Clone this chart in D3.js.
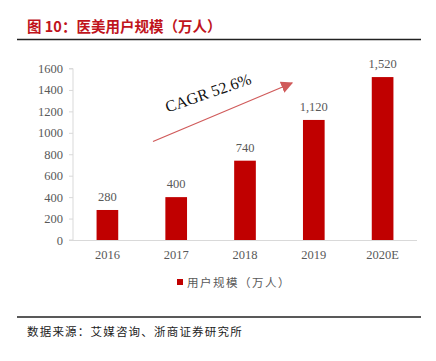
<!DOCTYPE html>
<html><head><meta charset="utf-8">
<script src="https://cdn.jsdelivr.net/npm/d3@7/dist/d3.min.js"></script>
<style>body{margin:0;background:#fff}svg{display:block}</style>
</head><body>
<svg id="c" width="436" height="361"></svg>
<script>
const categories = ["2016","2017","2018","2019","2020E"];
const values = [280, 400, 740, 1120, 1520];
const valueLabels = ["280","400","740","1,120","1,520"];
const yTicks = [0,200,400,600,800,1000,1200,1400,1600];
const title = "图 10：医美用户规模（万人）";
const seriesName = "用户规模（万人）";
const cagrText = "CAGR 52.6%";
const sourceText = "数据来源：艾媒咨询、浙商证券研究所";

const svg = d3.select("#c");
const red = "#c00000";
const serif = "'Liberation Serif','Times New Roman',serif";
const cjk = "'Noto Sans CJK SC',sans-serif";

// title
svg.append("text").attr("x",27).attr("y",32).attr("fill","#c0141c")
  .attr("font-family",cjk).attr("font-weight","bold").attr("font-size",14.5).text(title);
svg.append("line").attr("x1",17).attr("x2",421).attr("y1",39.5).attr("y2",39.5)
  .attr("stroke","#222").attr("stroke-width",1.6);
svg.append("line").attr("x1",17).attr("x2",421).attr("y1",317).attr("y2",317)
  .attr("stroke","#222").attr("stroke-width",1.6);
svg.append("text").attr("x",27).attr("y",336).attr("fill","#222")
  .attr("font-family",cjk).attr("font-size",11.5).attr("letter-spacing",1.2).text(sourceText);

const x = d3.scaleBand().domain(categories).range([73,417]).paddingInner(0.685).paddingOuter(0.3425);
const y = d3.scaleLinear().domain([0,1600]).range([240,68.5]);

// y axis
const ya = svg.append("g").attr("transform","translate(73,0)")
  .call(d3.axisLeft(y).tickValues(yTicks).tickSize(4).tickPadding(6).tickFormat(d3.format("d")));
ya.select(".domain").attr("stroke","#d9d9d9").attr("d","M-4,68.5H0V240H-4");
ya.selectAll(".tick line").attr("stroke","#d9d9d9");
ya.selectAll("text").attr("font-family",serif).attr("font-size",12.5).attr("fill","#595959");

// x axis
const xa = svg.append("g").attr("transform","translate(0,240)")
  .call(d3.axisBottom(x).tickSize(0).tickPadding(10));
xa.select(".domain").attr("stroke","#d9d9d9").attr("d","M73,0.5H417");
xa.selectAll("text").attr("font-family",serif).attr("font-size",12.5).attr("fill","#595959");

// bars
svg.selectAll("rect.bar").data(values).join("rect").attr("class","bar")
  .attr("x",(d,i)=>x(categories[i])).attr("width",x.bandwidth())
  .attr("y",d=>y(d)).attr("height",d=>240-y(d)).attr("fill",red);
svg.selectAll("text.vl").data(values).join("text").attr("class","vl")
  .attr("x",(d,i)=>x(categories[i])+x.bandwidth()/2).attr("y",d=>y(d)-9)
  .attr("text-anchor","middle").attr("font-family",serif).attr("font-size",12.5).attr("fill","#595959")
  .text((d,i)=>valueLabels[i]);

// CAGR arrow
const defs = svg.append("defs");
defs.append("marker").attr("id","ah").attr("viewBox","0 0 10 10").attr("refX",9).attr("refY",5)
  .attr("markerWidth",12).attr("markerHeight",12).attr("markerUnits","userSpaceOnUse")
  .attr("orient","auto").append("path").attr("d","M0,0L10,5L0,10Z").attr("fill","#d05a5a");
svg.append("line").attr("x1",153).attr("y1",141.5).attr("x2",292).attr("y2",83)
  .attr("stroke","#d05a5a").attr("stroke-width",1.2).attr("marker-end","url(#ah)");
svg.append("text").attr("transform","translate(210,98) rotate(-19)")
  .attr("text-anchor","middle").attr("font-family",serif).attr("font-size",16).attr("fill","#111")
  .text(cagrText);

// legend
svg.append("rect").attr("x",177).attr("y",279).attr("width",6).attr("height",6).attr("fill",red);
svg.append("text").attr("x",187).attr("y",287).attr("font-family",cjk).attr("font-size",11.5)
  .attr("fill","#595959").attr("letter-spacing",1.5).text(seriesName);
</script>
</body></html>
